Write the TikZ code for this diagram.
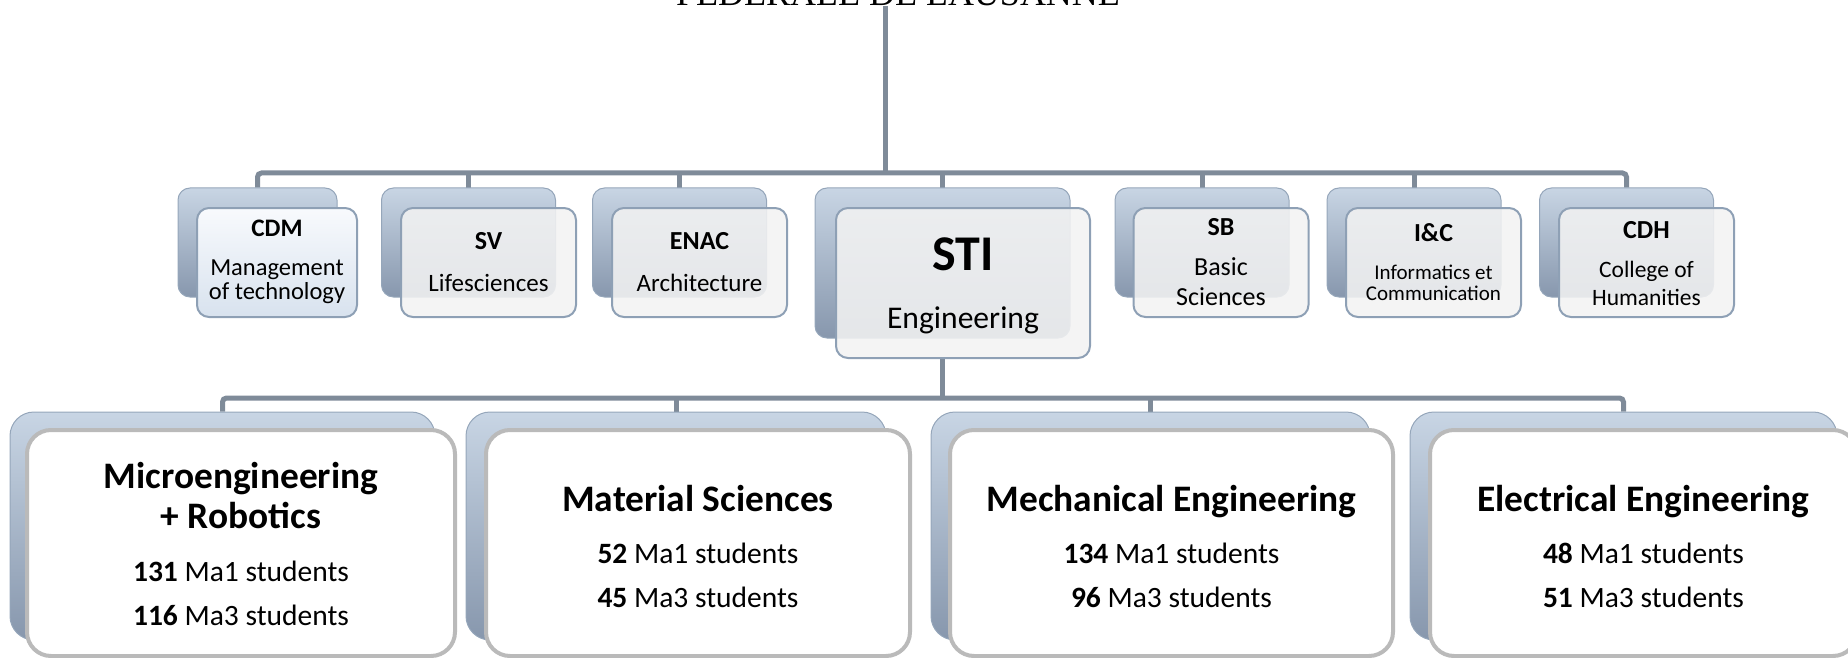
\documentclass[tikz,border=0pt]{standalone}
\usepackage{fontspec}
\setmainfont{Carlito}
\newfontfamily\epflfont{Liberation Serif}
\usetikzlibrary{calc}
\pgfdeclarelayer{background}
\pgfsetlayers{background,main}
\definecolor{connc}{HTML}{7F8B99}
\definecolor{bk1}{HTML}{C8D5E4}
\definecolor{bk2}{HTML}{A6B6CA}
\definecolor{bk3}{HTML}{8797AD}
\definecolor{bkd}{HTML}{95A6BA}
\definecolor{frb}{HTML}{8EA0B5}
\definecolor{frf}{HTML}{F2F2F2}
\definecolor{cdm1}{HTML}{F8FAFD}
\definecolor{cdm2}{HTML}{D8E2EE}
\definecolor{lowb}{HTML}{BABABA}
\newcommand\ltitle[1]{{\bfseries\fontsize{18.7}{20}\selectfont #1}}
\newcommand\utitle[1]{{\bfseries\fontsize{13}{13}\selectfont #1}}
\begin{document}
\begin{tikzpicture}[x=0.5pt,y=-0.5pt,
  conn/.style={draw=connc, line width=2.5pt},
  backU/.style={rounded corners=6pt, top color=bk1, middle color=bk2, bottom color=bk3, draw=bkd, line width=0.5pt, inner sep=0pt, minimum height=54.5pt},
  frontU/.style={rounded corners=6pt, draw=frb, line width=1pt, fill=frf, fill opacity=0.88, inner sep=0pt, minimum height=54.5pt},
  backL/.style={rounded corners=12pt, top color=bk1, middle color=bk2, bottom color=bk3, draw=bkd, line width=0.5pt, inner sep=0pt, minimum height=114pt},
  frontL/.style={rounded corners=12pt, draw=lowb, line width=2pt, fill=white, inner sep=0pt, minimum height=113pt},
  txt/.style={inner sep=0pt, align=center, text=black},
  ltxt/.style={txt, font=\fontsize{14.75}{22}\selectfont},
]
\useasboundingbox (0,0) rectangle (1848,658);
\clip (0,0) rectangle (1848,658);

% title (cut off at top)
\node[anchor=base, inner sep=0pt, font=\epflfont\fontsize{18}{18}\selectfont] (epfl) at (898,6) {FÉDÉRALE DE LAUSANNE};
\coordinate (topend) at (885,6);
\coordinate (ubar) at (885,173);

% upper back boxes
\node[backU, minimum width=79.5pt] (cdmB) at (257.5,242.5) {};
\node[backU, minimum width=87pt] (svB) at (468.5,242.5) {};
\node[backU, minimum width=87pt] (enacB) at (679.5,242.5) {};
\node[backU, minimum width=127.5pt, minimum height=75pt] (stiB) at (942.5,263) {};
\node[backU, minimum width=87pt] (sbB) at (1202,242.5) {};
\node[backU, minimum width=87pt] (icB) at (1414,242.5) {};
\node[backU, minimum width=87pt] (cdhB) at (1626.5,242.5) {};

% upper front boxes
\node[frontU, minimum width=80pt, fill opacity=1, top color=cdm1, bottom color=cdm2] (cdmF) at (277,262.5) {};
\node[frontU, minimum width=87.5pt] (svF) at (488.5,262.5) {};
\node[frontU, minimum width=87.5pt] (enacF) at (699.5,262.5) {};
\node[frontU, minimum width=127pt, minimum height=75pt] (stiF) at (963,283) {};
\node[frontU, minimum width=87.5pt] (sbF) at (1221,262.5) {};
\node[frontU, minimum width=87.5pt] (icF) at (1433.5,262.5) {};
\node[frontU, minimum width=87.5pt] (cdhF) at (1646.5,262.5) {};

% upper texts
\node[txt, font=\fontsize{12.25}{12.15}\selectfont] (cdmT) at (277,262) {{\bfseries\fontsize{12.6}{12}\selectfont CDM}\\[7.4pt]Management\\of technology};
\node[txt, font=\fontsize{12.5}{12.5}\selectfont] (svT) at (488.5,262.2) {\utitle{SV}\\[8.7pt]Lifesciences};
\node[txt, font=\fontsize{12.5}{12.5}\selectfont] (enacT) at (699.5,262.2) {\utitle{ENAC}\\[8.7pt]Architecture};
\node[txt, font=\fontsize{15.8}{16}\selectfont] (stiT) at (963,285.8) {{\bfseries\fontsize{25}{16}\selectfont STI}\\[12.6pt]Engineering};
\node[txt, font=\fontsize{13}{14.85}\selectfont] (sbT) at (1221,261.9) {\utitle{SB}\\[5.15pt]Basic\\Sciences};
\node[txt, font=\fontsize{10.5}{10.35}\selectfont] (icT) at (1433.5,261.9) {\utitle{I\&C}\\[9.05pt]Informatics et\\Communication};
\node[txt, font=\fontsize{11.75}{13.65}\selectfont] (cdhT) at (1646.5,263.3) {\utitle{CDH}\\[6.25pt]College of\\Humanities};

% lower back boxes
\node[backL, minimum width=212.5pt] (microB) at (222.5,526) {};
\node[backL, minimum width=210pt] (matB) at (676,526) {};
\node[backL, minimum width=219.5pt] (mechB) at (1150.5,526) {};
\node[backL, minimum width=213.5pt] (elecB) at (1623.5,526) {};

% lower front boxes
\node[frontL, minimum width=214pt] (microF) at (241,543) {};
\node[frontL, minimum width=212pt] (matF) at (698,543) {};
\node[frontL, minimum width=221.5pt] (mechF) at (1171.5,543) {};
\node[frontL, minimum width=213.5pt] (elecF) at (1643.5,543) {};

% lower texts
\node[ltxt] (microT) at (241,544) {\ltitle{Microengineering}\\[-2pt]\ltitle{+ Robotics}\\[4.5pt]\textbf{131} Ma1 students\\\textbf{116} Ma3 students};
\node[ltxt] (matT) at (698,546.3) {\ltitle{Material Sciences}\\[3.9pt]\textbf{52} Ma1 students\\\textbf{45} Ma3 students};
\node[ltxt] (mechT) at (1171.5,546.3) {\ltitle{Mechanical Engineering}\\[3.9pt]\textbf{134} Ma1 students\\\textbf{96} Ma3 students};
\node[ltxt] (elecT) at (1643.5,546.3) {\ltitle{Electrical Engineering}\\[3.9pt]\textbf{48} Ma1 students\\\textbf{51} Ma3 students};

\coordinate (lbar) at (stiB.south |- 0,398);

\begin{pgfonlayer}{background}
  \draw[conn] (topend) -- (ubar);
  \draw[conn, rounded corners=2pt] (cdmB.north) |- (ubar) -| (cdhB.north);
  \foreach \n in {svB,enacB,stiB,sbB,icB} \draw[conn] (\n.north) -- (\n.north |- ubar);
  \draw[conn] (stiF.south -| stiB.south) -- (lbar);
  \draw[conn, rounded corners=2pt] (microB.north) |- (lbar) -| (elecB.north);
  \draw[conn] (matB.north) -- (matB.north |- lbar);
  \draw[conn] (mechB.north) -- (mechB.north |- lbar);
\end{pgfonlayer}
\end{tikzpicture}
\end{document}
